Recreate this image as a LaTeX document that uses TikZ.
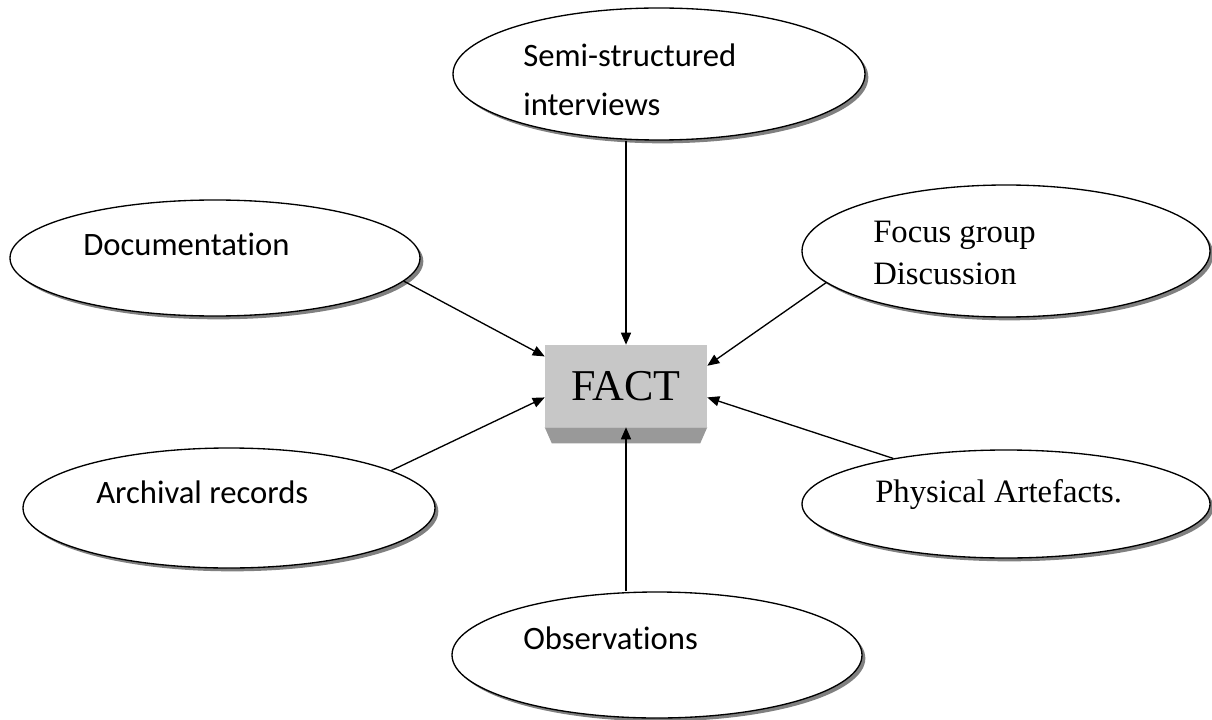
\documentclass[tikz,border=0pt]{standalone}
\usepackage{fontspec}
\setmainfont{Liberation Serif}
\newfontfamily\calibri[Ligatures={NoCommon,NoContextual}]{Carlito}
\usetikzlibrary{shapes.geometric,shadows,arrows.meta,calc}

\tikzset{
    source/.style={ellipse, draw, line width=1pt, fill=white, inner sep=0pt,
        drop shadow={shadow xshift=2.5pt, shadow yshift=-2.5pt, opacity=1, fill=black!50}},
    srclabel/.style={anchor=base west, inner sep=0pt, align=left},
    feed/.style={line width=1pt, -{Triangle[length=9pt,width=7.5pt]}},
}

\begin{document}
\begin{tikzpicture}[x=0.75pt,y=0.75pt,yscale=-1,xscale=1]
    \useasboundingbox (0,0) rectangle (1212,720);
    %Shape: Ellipse [semi]
    \node (semi) at (659,74) [source, minimum width=309pt, minimum height=99pt] {};
    %Shape: Ellipse [doc]
    \node (doc) at (215,258) [source, minimum width=307.5pt, minimum height=87pt] {};
    %Shape: Ellipse [focus]
    \node (focus) at (1006,251) [source, minimum width=306pt, minimum height=99pt] {};
    %Shape: Ellipse [arch]
    \node (arch) at (229,508) [source, minimum width=309pt, minimum height=90pt] {};
    %Shape: Ellipse [phys]
    \node (phys) at (1006,504) [source, minimum width=306pt, minimum height=81pt] {};
    %Shape: Ellipse [obs]
    \node (obs) at (657,655) [source, minimum width=307.5pt, minimum height=94.5pt] {};

    %Shape: Rectangle [fact]
    \node (fact) at (626,386) [fill=black!22, minimum width=121.5pt, minimum height=61.5pt, inner sep=0pt, font=\fontsize{33}{33}\selectfont] {FACT};
    \fill [black!40] (fact.south west) -- (fact.south east) -- ($(fact.south east)+(-7,16)$) -- ($(fact.south west)+(7,16)$) -- cycle;

    %Straight Lines
    \draw [feed] (semi.south -| fact.north) -- (fact.north);
    \draw [feed] (obs.north -| fact.south) -- (fact.south);
    \draw [feed] (doc.-7) -- (fact.160);
    \draw [feed] (arch.13) -- (fact.188);
    \draw [feed] (focus.190) -- (fact.14);
    \draw [feed] (phys.158) -- (fact.-8);

    % Text Node
    \node (semitext) at (523,116) [srclabel, font=\calibri\fontsize{24.5}{36.75}\selectfont] {Semi-structured\\interviews};
    % Text Node
    \node (doctext) at (83,255) [srclabel, font=\calibri\fontsize{24.5}{24.5}\selectfont] {Documentation};
    % Text Node
    \node (focustext) at (873,284) [srclabel, font=\fontsize{24.5}{31.5}\selectfont] {Focus group\\Discussion};
    % Text Node
    \node (archtext) at (96,503) [srclabel, font=\calibri\fontsize{24.5}{24.5}\selectfont] {Archival records};
    % Text Node
    \node (phystext) at (875,502) [srclabel, font=\fontsize{24.5}{24.5}\selectfont] {Physical Artefacts.};
    % Text Node
    \node (obstext) at (523,649) [srclabel, font=\calibri\fontsize{24.5}{24.5}\selectfont] {Observations};
\end{tikzpicture}
\end{document}
